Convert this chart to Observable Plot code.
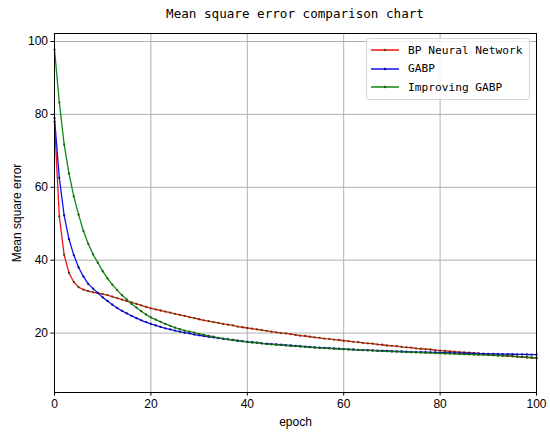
<!DOCTYPE html>
<html>
<head>
<meta charset="utf-8">
<script src="https://cdn.jsdelivr.net/npm/d3@7"></script>
<script src="https://cdn.jsdelivr.net/npm/@observablehq/plot@0.6"></script>
<style>
  html, body { margin: 0; padding: 0; background: #fff; }
  #wrap { position: relative; width: 550px; height: 437px; overflow: hidden; }
  #title { position: absolute; top: 6px; left: 54px; width: 482px; text-align: center;
    font-family: "DejaVu Sans Mono", monospace; font-size: 12.6px; color: #000; }
  #legend { position: absolute; left: 366px; top: 38px; width: 164px; height: 62px;
    border: 1px solid #d6d6d6; border-radius: 3px; background: rgba(255,255,255,0.85);
    font-family: "DejaVu Sans Mono", monospace; font-size: 11.2px; box-sizing: border-box; }
  .row { position: absolute; left: 4px; height: 16px; display: flex; align-items: center; }
  .row svg { margin-right: 9px; }
</style>
</head>
<body>
<div id="wrap">
  <div id="chart"></div>
  <div id="title"></div>
  <div id="legend"></div>
</div>
<script>
const epochs = d3.range(0, 101);
const seriesNames = ["BP Neural Network", "GABP", "Improving GABP"];
const seriesColors = ["#ee1111", "#1111ee", "#118811"];
const markerColors = ["#4a4a10", "#0a0a90", "#245a14"];
const titleText = "Mean square error comparison chart";
const xTicks = [0, 20, 40, 60, 80, 100];
const yTicks = [20, 40, 60, 80, 100];

const bpValues = [78, 52, 41.5, 36.5, 34.0, 32.6, 31.9, 31.5, 31.2, 31.0, 30.7, 30.4, 30.0, 29.6, 29.2, 28.8, 28.4, 28.0, 27.6, 27.2, 26.8,
  26.5, 26.2, 25.9, 25.6, 25.3, 25.0, 24.7, 24.4, 24.1, 23.8,
  23.5, 23.3, 23.0, 22.8, 22.5, 22.3, 22.1, 21.8, 21.6, 21.4,
  21.2, 21.0, 20.8, 20.6, 20.4, 20.2, 20.0, 19.9, 19.7, 19.5,
  19.3, 19.2, 19.0, 18.8, 18.7, 18.5, 18.4, 18.2, 18.1, 17.9,
  17.8, 17.6, 17.5, 17.3, 17.2, 17.1, 16.9, 16.8, 16.6, 16.5,
  16.4, 16.2, 16.1, 16.0, 15.8, 15.7, 15.6, 15.5, 15.3, 15.2,
  15.1, 15.0, 14.9, 14.8, 14.7, 14.6, 14.5, 14.4, 14.2, 14.1,
  14.0, 13.9, 13.8, 13.7, 13.6, 13.5, 13.4, 13.3, 13.2, 13.1];

const gabpValues = [79, 62.6, 52.3, 45.8, 41.4, 38.0, 35.5, 33.5, 32.2, 31.0, 29.8, 28.8, 27.8, 26.9, 26.1, 25.4, 24.7, 24.1, 23.5, 23.0, 22.5,
  22.1, 21.7, 21.3, 21.0, 20.7, 20.4, 20.1, 19.9, 19.6, 19.4,
  19.2, 19.0, 18.8, 18.6, 18.4, 18.3, 18.1, 17.9, 17.8, 17.6,
  17.5, 17.4, 17.2, 17.1, 17.0, 16.9, 16.8, 16.7, 16.6, 16.5,
  16.4, 16.3, 16.2, 16.1, 16.0, 15.95, 15.9, 15.8, 15.7, 15.6,
  15.55, 15.5, 15.4, 15.35, 15.3, 15.25, 15.2, 15.15, 15.1, 15.05,
  15.0, 14.95, 14.9, 14.85, 14.8, 14.78, 14.75, 14.72, 14.7, 14.65,
  14.6, 14.57, 14.54, 14.5, 14.47, 14.44, 14.4, 14.38, 14.35, 14.32,
  14.3, 14.27, 14.24, 14.22, 14.2, 14.17, 14.15, 14.12, 14.1, 14.08];

const igabpValues = [97.8, 83.3, 71.8, 63.8, 57.5, 52.5, 48.0, 44.5, 41.6, 39.3, 37.0, 35.0, 33.3, 31.8, 30.4, 29.2, 28.0, 27.0, 26.0, 25.1, 24.3,
  23.7, 23.1, 22.5, 22.0, 21.5, 21.1, 20.7, 20.4, 20.1, 19.8,
  19.5, 19.2, 19.0, 18.7, 18.5, 18.3, 18.1, 17.9, 17.7, 17.6,
  17.4, 17.3, 17.2, 17.0, 16.9, 16.8, 16.7, 16.6, 16.5, 16.4,
  16.3, 16.2, 16.1, 16.0, 15.95, 15.9, 15.8, 15.7, 15.65, 15.6,
  15.5, 15.45, 15.4, 15.3, 15.25, 15.2, 15.1, 15.05, 15.0, 14.95,
  14.9, 14.85, 14.8, 14.75, 14.7, 14.65, 14.6, 14.55, 14.5, 14.45,
  14.4, 14.35, 14.3, 14.25, 14.2, 14.15, 14.1, 14.05, 14.0, 13.95,
  13.9, 13.85, 13.8, 13.75, 13.7, 13.6, 13.5, 13.4, 13.3, 13.2];

const allValues = [bpValues, gabpValues, igabpValues];
const data = [];
allValues.forEach((vals, si) => {
  vals.forEach((v, i) => data.push({ epoch: epochs[i], mse: v, series: seriesNames[si] }));
});

const marks = [];
marks.push(Plot.gridX(xTicks, { stroke: "#b0b0b0", strokeOpacity: 1, strokeWidth: 1 }));
marks.push(Plot.gridY(yTicks, { stroke: "#b0b0b0", strokeOpacity: 1, strokeWidth: 1 }));
seriesNames.forEach((name, si) => {
  const d = data.filter(r => r.series === name);
  marks.push(Plot.line(d, { x: "epoch", y: "mse", stroke: seriesColors[si], strokeWidth: 1.3 }));
});
seriesNames.forEach((name, si) => {
  const d = data.filter(r => r.series === name);
  marks.push(Plot.dot(d, { x: "epoch", y: "mse", r: 1.15, fill: markerColors[si], stroke: null }));
});
marks.push(Plot.frame({ stroke: "#000", strokeWidth: 1 }));
marks.push(Plot.axisX(xTicks, { tickSize: 3.5, tickPadding: 3, fontSize: 12, label: "epoch",
  labelAnchor: "center", labelArrow: "none", labelOffset: 33 }));
marks.push(Plot.axisY(yTicks, { tickSize: 3.5, tickPadding: 3, fontSize: 12, label: "Mean square error",
  labelAnchor: "center", labelArrow: "none", labelOffset: 42 }));

const chart = Plot.plot({
  width: 550,
  height: 437,
  marginTop: 33,
  marginBottom: 45,
  marginLeft: 54,
  marginRight: 14,
  x: { domain: [0, 100] },
  y: { domain: [3.7, 102.2] },
  style: { fontFamily: "'Liberation Sans', Arial, sans-serif", fontSize: "11.5px", color: "#000", background: "#fff" },
  marks
});
document.getElementById("chart").appendChild(chart);
document.getElementById("title").textContent = titleText;

const legend = document.getElementById("legend");
seriesNames.forEach((name, si) => {
  const row = document.createElement("div");
  row.className = "row";
  row.style.top = (3 + si * 18.7) + "px";
  row.innerHTML = `<svg width="28" height="6"><line x1="0" x2="28" y1="3" y2="3" stroke="${seriesColors[si]}" stroke-width="1.5"/><circle cx="14" cy="3" r="1.2" fill="${markerColors[si]}"/></svg><span>${name}</span>`;
  legend.appendChild(row);
});
</script>
</body>
</html>
